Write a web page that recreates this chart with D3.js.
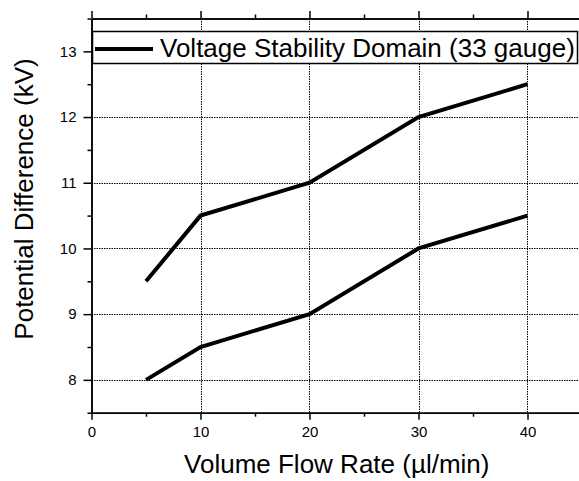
<!DOCTYPE html>
<html>
<head>
<meta charset="utf-8">
<script src="https://cdn.jsdelivr.net/npm/d3@7"></script>
<style>
  html, body { margin: 0; padding: 0; background: #fff; }
  svg { display: block; font-family: "Liberation Sans", Arial, sans-serif; }
  svg text { font-family: "Liberation Sans", Arial, sans-serif; }
</style>
</head>
<body>
<svg id="chart" width="579" height="481"></svg>
<script>
// ---- data ----
const flowRates = [5, 10, 20, 30, 40];
const upperVoltage = [9.5, 10.5, 11, 12, 12.5];
const lowerVoltage = [8, 8.5, 9, 10, 10.5];
const xMajorTicks = [0, 10, 20, 30, 40];
const xMinorTicks = [5, 15, 25, 35, 45];
const yMajorTicks = [8, 9, 10, 11, 12, 13];
const yMinorTicks = [7.5, 8.5, 9.5, 10.5, 11.5, 12.5, 13.5];
const xGridValues = [10, 20, 30, 40];
const yGridValues = [8, 9, 10, 11, 12, 13];
const legendLabel = "Voltage Stability Domain (33 gauge)";
const xTitle = "Volume Flow Rate (\u00b5l/min)";
const yTitle = "Potential Difference (kV)";

const FONT = "'Liberation Sans', Arial, sans-serif";
const svg = d3.select("#chart");
const x = d3.scaleLinear().domain([0, 45]).range([91.5, 582]);
const y = d3.scaleLinear().domain([7.5, 13.5]).range([412.7, 18.5]);
const [x0, x1] = x.range();
const [yb, yt] = y.range();

svg.append("rect").attr("width", 579).attr("height", 481).attr("fill", "#fff");

// grid
const grid = svg.append("g").attr("stroke", "#000").attr("stroke-width", 1)
  .attr("stroke-dasharray", "1.5,1");
grid.selectAll("line.v").data(xGridValues).join("line").attr("class", "v")
  .attr("x1", d => Math.round(x(d)) + 0.5).attr("x2", d => Math.round(x(d)) + 0.5)
  .attr("y1", yt).attr("y2", yb);
grid.selectAll("line.h").data(yGridValues).join("line").attr("class", "h")
  .attr("y1", d => Math.round(y(d)) + 0.5).attr("y2", d => Math.round(y(d)) + 0.5)
  .attr("x1", x0).attr("x2", x1);

// series lines
const line = d3.line().x((d, i) => x(flowRates[i])).y(d => y(d));
[upperVoltage, lowerVoltage].forEach(s => {
  svg.append("path").datum(s).attr("d", line)
    .attr("fill", "none").attr("stroke", "#000").attr("stroke-width", 4)
    .attr("stroke-linejoin", "miter").attr("stroke-linecap", "butt");
});

function styleAxis(g) {
  g.attr("font-family", FONT).attr("font-size", 15);
  g.selectAll("path.domain").attr("stroke", "#000").attr("stroke-width", 1.5);
  g.selectAll(".tick line").attr("stroke", "#000").attr("stroke-width", 1.5);
  g.selectAll(".tick text").attr("fill", "#000").attr("font-family", FONT).attr("font-size", 15);
}
// bottom
svg.append("g").attr("transform", `translate(0,${yb})`)
  .call(d3.axisBottom(x).tickValues(xMinorTicks).tickSize(4).tickSizeOuter(0).tickFormat(""))
  .call(styleAxis);
svg.append("g").attr("transform", `translate(0,${yb})`)
  .call(d3.axisBottom(x).tickValues(xMajorTicks).tickSize(7).tickSizeOuter(0).tickPadding(7).tickFormat(d3.format("d")))
  .call(styleAxis);
// top
svg.append("g").attr("transform", `translate(0,${yt})`)
  .call(d3.axisTop(x).tickValues(xMinorTicks).tickSize(4).tickSizeOuter(0).tickFormat(""))
  .call(styleAxis);
svg.append("g").attr("transform", `translate(0,${yt})`)
  .call(d3.axisTop(x).tickValues(xMajorTicks).tickSize(7.5).tickSizeOuter(0).tickFormat(""))
  .call(styleAxis);
// left
svg.append("g").attr("transform", `translate(${x0},0)`)
  .call(d3.axisLeft(y).tickValues(yMinorTicks).tickSize(4).tickSizeOuter(0).tickFormat(""))
  .call(styleAxis);
svg.append("g").attr("transform", `translate(${x0},0)`)
  .call(d3.axisLeft(y).tickValues(yMajorTicks).tickSize(8).tickSizeOuter(0).tickPadding(7).tickFormat(d3.format("d")))
  .call(styleAxis);

// legend
const lg = svg.append("g");
lg.append("rect").attr("x", 92.5).attr("y", 31.5).attr("width", 485).attr("height", 32)
  .attr("fill", "#fff").attr("stroke", "#000").attr("stroke-width", 1.5);
lg.append("line").attr("x1", 95).attr("x2", 153).attr("y1", 49).attr("y2", 49)
  .attr("stroke", "#000").attr("stroke-width", 4);
lg.append("text").attr("x", 160).attr("y", 57.3).attr("font-family", FONT).attr("font-size", 26).attr("fill", "#000")
  .text(legendLabel);

// axis titles
svg.append("text").attr("x", (x0 + x1) / 2).attr("y", 473.3).attr("text-anchor", "middle")
  .attr("font-family", FONT).attr("font-size", 26).attr("fill", "#000").text(xTitle);
svg.append("text").attr("transform", "translate(33,199) rotate(-90)").attr("text-anchor", "middle")
  .attr("font-family", FONT).attr("font-size", 26).attr("fill", "#000").text(yTitle);
</script>
</body>
</html>
